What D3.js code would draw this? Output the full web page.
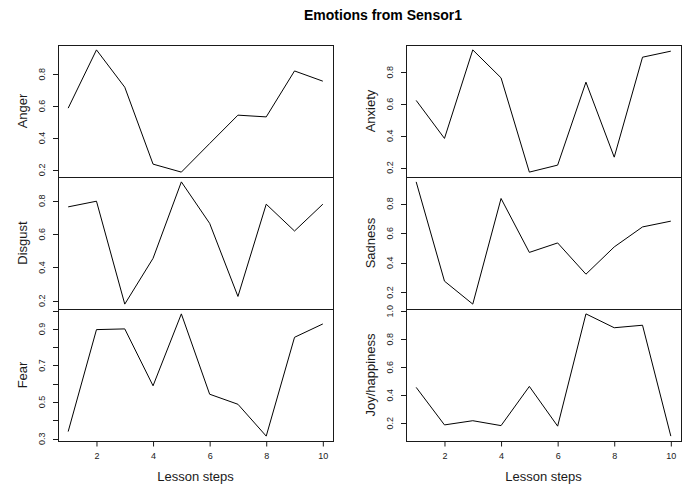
<!DOCTYPE html>
<html>
<head>
<meta charset="utf-8">
<script src="https://cdn.jsdelivr.net/npm/d3@7"></script>
<style>
  html, body { margin: 0; padding: 0; background: #fff; }
  svg { display: block; font-family: "Liberation Sans", Arial, sans-serif; }
</style>
</head>
<body>
<svg id="chart" width="686" height="485"></svg>
<script>
// ---- data ----
const steps = [1, 2, 3, 4, 5, 6, 7, 8, 9, 10];
const anger     = [0.587, 0.952, 0.718, 0.236, 0.186, 0.365, 0.543, 0.532, 0.820, 0.756];
const anxiety   = [0.622, 0.383, 0.940, 0.764, 0.171, 0.215, 0.737, 0.265, 0.894, 0.932];
const disgust   = [0.764, 0.798, 0.180, 0.455, 0.914, 0.665, 0.226, 0.780, 0.619, 0.780];
const sadness   = [0.946, 0.276, 0.121, 0.834, 0.470, 0.534, 0.323, 0.507, 0.642, 0.681];
const fear      = [0.339, 0.896, 0.900, 0.589, 0.982, 0.543, 0.488, 0.314, 0.854, 0.927];
const joy       = [0.456, 0.188, 0.218, 0.183, 0.463, 0.179, 0.981, 0.882, 0.900, 0.108];

const xTicks = [2, 4, 6, 8, 10];
const angerTicks   = [0.2, 0.4, 0.6, 0.8];
const anxietyTicks = [0.2, 0.4, 0.6, 0.8];
const disgustTicks = [0.2, 0.4, 0.6, 0.8];
const sadnessTicks = [0.2, 0.4, 0.6, 0.8];
const fearTicks    = [0.3, 0.4, 0.5, 0.6, 0.7, 0.8, 0.9, 1.0];
const fearLabels   = [0.3, 0.5, 0.7, 0.9];
const joyTicks     = [0.2, 0.4, 0.6, 0.8, 1.0];

const mainTitle = "Emotions from Sensor1";
const xTitle = "Lesson steps";

const panels = [
  { name: "Anger",         values: anger,   ticks: angerTicks,   labels: angerTicks,   col: 0, row: 0 },
  { name: "Disgust",       values: disgust, ticks: disgustTicks, labels: disgustTicks, col: 0, row: 1 },
  { name: "Fear",          values: fear,    ticks: fearTicks,    labels: fearLabels,   col: 0, row: 2 },
  { name: "Anxiety",       values: anxiety, ticks: anxietyTicks, labels: anxietyTicks, col: 1, row: 0 },
  { name: "Sadness",       values: sadness, ticks: sadnessTicks, labels: sadnessTicks, col: 1, row: 1 },
  { name: "Joy/happiness", values: joy,     ticks: joyTicks,     labels: joyTicks,     col: 1, row: 2 }
];

// ---- layout ----
const svg = d3.select("#chart");
const colLeft = [58, 406];
const panelW = 275;
const rowTop = 45;
const panelH = 132;
const ink = "#1a1a1a";

svg.append("text")
  .attr("x", 383).attr("y", 20)
  .attr("text-anchor", "middle")
  .attr("font-size", 14).attr("font-weight", "bold")
  .attr("fill", "#000")
  .text(mainTitle);

function padExtent(arr, frac) {
  const [a, b] = d3.extent(arr);
  const r = b - a;
  return [a - frac * r, b + frac * r];
}

const fmt = d3.format(".1f");

panels.forEach(p => {
  const x0 = colLeft[p.col];
  const y0 = rowTop + p.row * panelH;
  const x = d3.scaleLinear().domain(padExtent(steps, 0.04)).range([x0, x0 + panelW]);
  const y = d3.scaleLinear().domain(padExtent(p.values, 0.04)).range([y0 + panelH, y0]);

  const g = svg.append("g");

  // line
  const line = d3.line().x((d, i) => x(steps[i])).y(d => y(d));
  g.append("path")
    .datum(p.values)
    .attr("d", line)
    .attr("fill", "none")
    .attr("stroke", "#000")
    .attr("stroke-width", 1);

  // box
  g.append("rect")
    .attr("x", x0 + 0.5).attr("y", y0 + 0.5)
    .attr("width", panelW).attr("height", panelH)
    .attr("fill", "none").attr("stroke", ink).attr("stroke-width", 1);

  // y axis ticks
  p.ticks.forEach(t => {
    const yy = Math.round(y(t)) + 0.5;
    g.append("line")
      .attr("x1", x0 - 5).attr("x2", x0 + 0.5)
      .attr("y1", yy).attr("y2", yy)
      .attr("stroke", ink).attr("stroke-width", 1);
  });
  p.labels.forEach(t => {
    const yy = y(t);
    g.append("text")
      .attr("transform", `translate(${x0 - 13},${yy}) rotate(-90)`)
      .attr("text-anchor", "middle")
      .attr("font-size", 9)
      .attr("fill", ink)
      .text(fmt(t));
  });

  // y title
  svg.append("text")
    .attr("transform", `translate(${x0 - 31},${y0 + panelH / 2}) rotate(-90)`)
    .attr("text-anchor", "middle")
    .attr("font-size", 13)
    .attr("fill", ink)
    .text(p.name);

  // x axis on bottom row
  if (p.row === 2) {
    const yb = y0 + panelH + 0.5;
    const xAxis = d3.axisBottom(x).tickValues(xTicks).tickSize(5).tickPadding(6).tickFormat(d3.format("d"));
    const ax = svg.append("g").attr("transform", `translate(0,${yb})`).call(xAxis);
    ax.select(".domain").remove();
    ax.selectAll(".tick line").attr("stroke", ink);
    ax.selectAll(".tick text")
      .attr("font-size", 9).attr("fill", ink)
      .attr("font-family", "Liberation Sans, Arial, sans-serif");
    svg.append("text")
      .attr("x", x0 + panelW / 2).attr("y", 481)
      .attr("text-anchor", "middle")
      .attr("font-size", 13)
      .attr("fill", ink)
      .text(xTitle);
  }
});
</script>
</body>
</html>
